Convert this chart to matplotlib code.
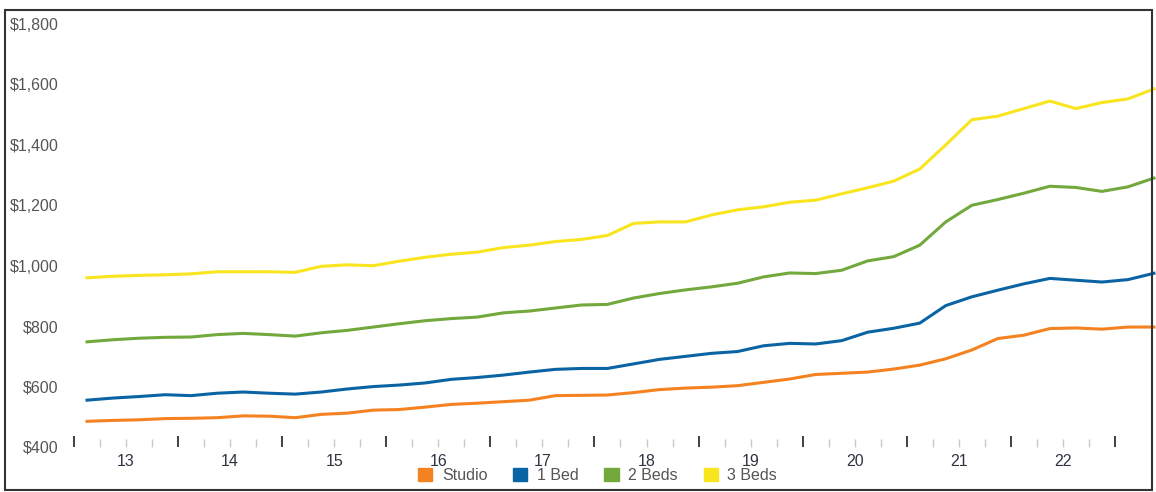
import matplotlib.pyplot as plt
from matplotlib.patches import Patch, Rectangle
from matplotlib.ticker import FixedLocator

plt.rcParams['font.family'] = ['Liberation Sans', 'DejaVu Sans']

# quarterly rents, Q1 2013 .. Q2 2023 (plotted at quarter midpoints)
quarters = [2013.125 + 0.25 * i for i in range(42)]

studio = [485, 488, 490, 494, 495, 497, 503, 502, 497, 508, 512, 522,
          524, 532, 541, 545, 550, 555, 570, 571, 572, 580, 590, 595,
          598, 603, 614, 625, 640, 644, 648, 658, 671, 692, 721, 759,
          770, 792, 794, 790, 797, 797]
one_bed = [555, 562, 567, 573, 570, 578, 582, 578, 575, 582, 592, 600,
           605, 612, 624, 630, 638, 648, 657, 660, 660, 675, 690, 700,
           710, 716, 735, 743, 741, 752, 780, 793, 810, 868, 897, 919,
           940, 958, 952, 946, 954, 975]
two_beds = [748, 755, 760, 763, 764, 772, 776, 772, 767, 778, 786, 797,
            808, 818, 825, 830, 844, 850, 860, 870, 872, 893, 908, 920,
            930, 942, 963, 976, 974, 985, 1016, 1030, 1068, 1145, 1200, 1219,
            1240, 1263, 1259, 1246, 1261, 1290]
three_beds = [960, 965, 968, 970, 973, 980, 980, 980, 978, 998, 1003, 1000,
              1015, 1028, 1038, 1045, 1060, 1068, 1080, 1087, 1100, 1140, 1145, 1145,
              1168, 1185, 1195, 1210, 1217, 1238, 1258, 1280, 1320, 1400, 1483, 1495,
              1520, 1545, 1520, 1540, 1552, 1585]

series_names = ['Studio', '1 Bed', '2 Beds', '3 Beds']
colors = ['#f58220', '#0a64a4', '#72a83c', '#f9e51e']

years = list(range(2013, 2024))
year_labels = ['13', '14', '15', '16', '17', '18', '19', '20', '21', '22']
y_ticks = [400, 600, 800, 1000, 1200, 1400, 1600, 1800]
y_labels = ['$400', '$600', '$800', '$1,000', '$1,200', '$1,400', '$1,600', '$1,800']

fig = plt.figure(figsize=(11.56, 4.92), dpi=100)
ax = fig.add_axes([74 / 1156, 45 / 492, (1155 - 74) / 1156, 423 / 492])

for vals, c in zip([studio, one_bed, two_beds, three_beds], colors):
    ax.plot(quarters, vals, color=c, lw=2.2, solid_joinstyle='round', clip_on=False)

ax.set_xlim(2013, 2023.385)
ax.set_ylim(400, 1800)

for s in ax.spines.values():
    s.set_visible(False)

ax.set_yticks(y_ticks)
ax.set_yticklabels(y_labels)
ax.tick_params(axis='y', length=0, pad=11, labelsize=11.5, labelcolor='#555555')

ax.set_xticks(years)
ax.set_xticklabels([''] * len(years))
ax.xaxis.set_minor_locator(FixedLocator([y + q for y in years[:-1] for q in (0.25, 0.5, 0.75)]))
ax.tick_params(axis='x', which='major', direction='in', length=8, width=1.3, color='#333333')
ax.tick_params(axis='x', which='minor', direction='in', length=6, width=1, color='#c8c8c8')

for yr, lab in zip(years[:-1], year_labels):
    ax.text(yr + 0.5, -0.035, lab, transform=ax.get_xaxis_transform(),
            ha='center', va='center', fontsize=11.5, color='#2e3440')

handles = [Patch(facecolor=c, edgecolor=c) for c in colors]
fig.legend(handles, series_names, loc='center', bbox_to_anchor=(0.517, 0.033),
           ncol=4, frameon=False, fontsize=11.5, handlelength=0.9, handleheight=0.9,
           handletextpad=0.6, columnspacing=1.6, labelcolor='#555555')

fig.patches.append(Rectangle((5 / 1156, 2 / 492), 1147 / 1156, 480 / 492,
                             transform=fig.transFigure, fill=False,
                             edgecolor='#333333', lw=1.5))

fig.savefig('out.png', dpi=100)
